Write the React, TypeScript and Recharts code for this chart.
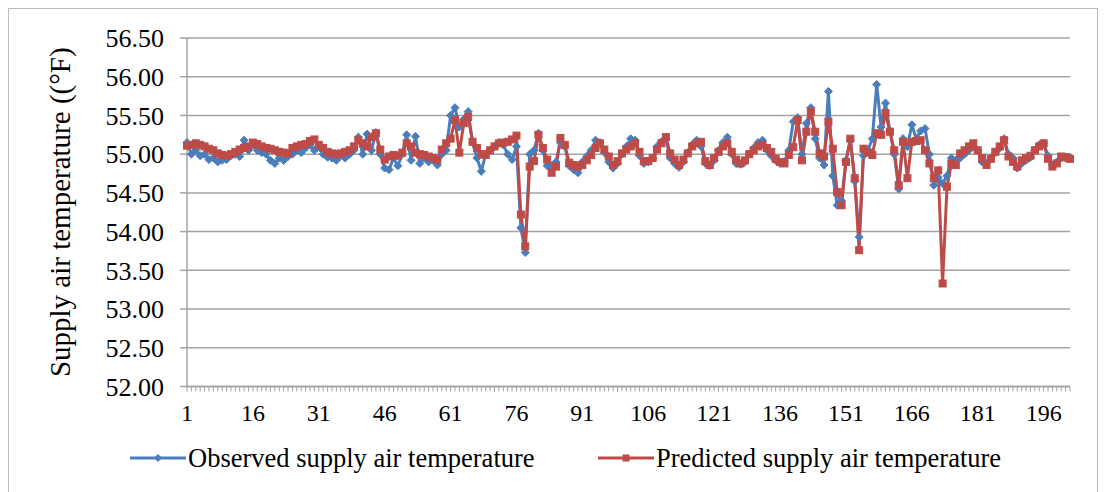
import React from 'react';
import { LineChart, Line, XAxis, YAxis, CartesianGrid, Legend } from 'recharts';

const observed: number[] = [
  55.15, 55.0, 55.05, 54.98, 55.0, 54.93, 54.95, 54.9, 54.92, 54.93,
  54.98, 55.0, 54.97, 55.18, 55.05, 55.12, 55.05, 55.02, 55.0, 54.92,
  54.88, 54.95, 54.92, 54.97, 55.0, 55.05, 55.02, 55.08, 55.12, 55.05,
  55.1, 55.0, 54.96, 54.95, 54.92, 54.98, 54.95, 55.0, 55.05, 55.22,
  55.0, 55.26, 55.05, 55.28, 55.0, 54.82, 54.8, 54.95, 54.85, 55.0,
  55.25, 54.92, 55.23, 54.88, 54.95, 54.9, 54.92, 54.86, 55.0, 55.05,
  55.5, 55.6, 55.35, 55.45, 55.55, 55.15, 54.95, 54.78, 55.0, 55.05,
  55.1, 55.15, 55.12, 55.0, 54.93, 55.1, 54.05, 53.73, 55.0, 55.05,
  55.27, 55.05, 54.85, 54.85, 54.9, 55.15, 55.1, 54.85, 54.8, 54.76,
  54.9, 54.97, 55.05, 55.18, 55.15, 55.02, 54.9, 54.82, 54.88, 55.0,
  55.1, 55.2, 55.18, 54.98, 54.88, 54.9, 54.95, 55.1, 55.16, 55.2,
  54.95, 54.88, 54.83, 54.9, 55.02, 55.12, 55.18, 55.1, 54.88, 54.85,
  54.92, 55.05, 55.15, 55.22, 55.0, 54.88, 54.87, 54.9, 55.0, 55.08,
  55.15, 55.18, 55.05, 54.98, 54.92, 54.88, 54.9, 55.05, 55.42, 55.47,
  55.0, 55.4, 55.6, 55.2, 54.95, 54.86, 55.81, 54.72, 54.34, 54.4,
  54.92, 55.18, 54.65, 53.93, 54.98, 55.05, 55.2, 55.9, 55.35, 55.66,
  55.3, 55.0, 54.55, 55.2, 55.1, 55.38, 55.2, 55.3, 55.33, 55.0,
  54.6, 54.7, 54.62, 54.72, 54.95, 54.92, 54.95, 55.0, 55.05, 55.1,
  55.05, 54.9, 54.88, 54.95, 55.02, 55.08, 55.2, 55.0, 54.95, 54.82,
  54.88, 54.92, 54.96, 55.05, 55.12, 55.14, 54.98, 54.86, 54.9, 54.95,
  54.95, 54.96,
];

const predicted: number[] = [
  55.11, 55.12, 55.14, 55.12, 55.1, 55.07, 55.05, 55.01, 54.99, 54.98,
  55.0, 55.03, 55.06, 55.08, 55.1, 55.15, 55.13, 55.1, 55.08, 55.07,
  55.05, 55.03, 55.02, 55.01, 55.08, 55.1, 55.12, 55.13, 55.17, 55.19,
  55.12, 55.08, 55.03, 55.01, 55.0, 55.01, 55.03, 55.05, 55.1, 55.18,
  55.14, 55.1, 55.22, 55.27, 55.06, 54.93, 54.97, 54.99, 54.98, 55.02,
  55.14, 55.1, 55.02, 55.0, 54.99, 54.97, 54.95, 54.93, 55.06, 55.14,
  55.2, 55.44, 55.02, 55.4, 55.48, 55.16, 55.08, 55.0, 54.99, 55.05,
  55.1, 55.14, 55.15, 55.16, 55.19, 55.24, 54.22, 53.81, 54.84, 54.91,
  55.25, 55.08, 54.93, 54.76, 54.84, 55.21, 55.12, 54.89, 54.86, 54.84,
  54.86, 54.92, 54.99, 55.08, 55.14, 55.06, 54.97, 54.86, 54.91, 55.01,
  55.06, 55.1, 55.14, 55.03, 54.91, 54.91, 54.95, 55.06, 55.14, 55.22,
  55.01, 54.93, 54.86, 54.93, 55.01, 55.1, 55.14, 55.16, 54.91, 54.86,
  54.95, 55.03, 55.1, 55.14, 55.03, 54.93, 54.88, 54.92, 55.0, 55.05,
  55.1, 55.12, 55.08, 55.03, 54.94, 54.9, 54.88, 54.99, 55.09, 55.44,
  54.92, 55.29, 55.55, 55.29, 55.01, 54.97, 55.42, 55.07, 54.51, 54.34,
  54.9, 55.2, 54.69, 53.76, 55.07, 55.02, 54.99, 55.27, 55.25, 55.53,
  55.29, 55.05, 54.6, 55.16, 54.69, 55.16, 55.17, 55.18, 55.05, 54.88,
  54.69, 54.79, 53.33, 54.58, 54.88, 54.86, 55.01, 55.05, 55.1, 55.14,
  55.05, 54.95, 54.86, 54.94, 55.03, 55.1, 55.18, 54.97, 54.9, 54.84,
  54.92, 54.95, 54.98, 55.05, 55.1, 55.14, 54.94, 54.84, 54.88, 54.97,
  54.96, 54.94,
];

const categories: string[] = observed.map((_, i) => String(i + 1));
const xTickLabels: string[] = ['1', '16', '31', '46', '61', '76', '91', '106', '121', '136', '151', '166', '181', '196'];
const yTicks: number[] = [52, 52.5, 53, 53.5, 54, 54.5, 55, 55.5, 56, 56.5];
const seriesNames: string[] = ['Observed supply air temperature', 'Predicted supply air temperature'];
const yAxisTitle = 'Supply air temperature ((°F)';

const data = categories.map((c, i) => ({ cat: c, observed: observed[i], predicted: predicted[i] }));

const FONT = '"Liberation Serif", "Times New Roman", serif';
const BLUE = '#4a7ebb';
const RED = '#be4b48';
const GRID = '#a3a3a3';

const diamondPath = (cx: number, cy: number, r: number) =>
  `M${cx},${cy - r}L${cx + r},${cy}L${cx},${cy + r}L${cx - r},${cy}Z`;

const DiamondDot = (props: any) => {
  const { cx, cy, index } = props;
  if (cx == null || cy == null) return <g key={`od${index}`} />;
  return <path key={`od${index}`} d={diamondPath(cx, cy, 4)} fill={BLUE} stroke={BLUE} strokeWidth={1} />;
};

const SquareDot = (props: any) => {
  const { cx, cy, index } = props;
  if (cx == null || cy == null) return <g key={`pd${index}`} />;
  return <rect key={`pd${index}`} x={cx - 3.5} y={cy - 3.5} width={7} height={7} fill={RED} stroke={RED} strokeWidth={1} />;
};

const XTick = (props: any) => {
  const { x, y, payload } = props;
  const v = String(payload?.value);
  if (!xTickLabels.includes(v)) return <g />;
  return (
    <text x={x} y={y} dy="0.71em" textAnchor="middle" fontSize={24} style={{ fontFamily: FONT }} fill="#000">
      {v}
    </text>
  );
};

const YTick = (props: any) => {
  const { x, y, payload } = props;
  return (
    <text x={x} y={y} dy="0.355em" textAnchor="end" fontSize={26} style={{ fontFamily: FONT }} fill="#000">
      {Number(payload.value).toFixed(2)}
    </text>
  );
};

const YTitle = (props: any) => {
  const vb = props.viewBox || {};
  const cx = 52;
  const cy = vb.y != null && vb.height != null ? vb.y + vb.height / 2 : 204.4;
  return (
    <text
      x={cx}
      y={cy}
      transform={`rotate(-90 ${cx} ${cy})`}
      textAnchor="middle"
      dominantBaseline="central"
      fontSize={29}
      style={{ fontFamily: FONT }}
      fill="#000"
    >
      {yAxisTitle}
    </text>
  );
};

const LegendContent = () => (
  <div style={{ position: 'relative', width: 1090, height: 45, fontFamily: FONT, fontSize: 26.5, color: '#000' }}>
    <div style={{ position: 'absolute', left: 122, top: 0, height: 36, display: 'flex', alignItems: 'center' }}>
      <svg width={56} height={12} style={{ display: 'block' }}>
        <line x1={0} y1={6} x2={56} y2={6} stroke={BLUE} strokeWidth={3} />
        <path d={diamondPath(28, 6, 4)} fill={BLUE} />
      </svg>
      <span style={{ marginLeft: 2, whiteSpace: 'nowrap', lineHeight: '36px' }}>{seriesNames[0]}</span>
    </div>
    <div style={{ position: 'absolute', left: 590, top: 0, height: 36, display: 'flex', alignItems: 'center' }}>
      <svg width={56} height={12} style={{ display: 'block' }}>
        <line x1={0} y1={6} x2={56} y2={6} stroke={RED} strokeWidth={3} />
        <rect x={24.5} y={2.5} width={7} height={7} fill={RED} />
      </svg>
      <span style={{ marginLeft: 2, whiteSpace: 'nowrap', lineHeight: '36px' }}>{seriesNames[1]}</span>
    </div>
  </div>
);

export default function App() {
  return (
    <div style={{ position: 'relative', width: 1090, height: 484 }}>
      <div
        style={{
          position: 'absolute',
          left: 0,
          top: 0,
          width: 1090,
          height: 500,
          border: '1px solid #bdbdbd',
          boxSizing: 'border-box',
        }}
      />
      <div style={{ position: 'absolute', left: 0, top: 0 }}>
        <LineChart width={1090} height={484} data={data} margin={{ top: 30, right: 28, left: 0, bottom: 0 }}>
          <CartesianGrid vertical={false} stroke={GRID} strokeWidth={1.5} />
          <XAxis
            dataKey="cat"
            interval={0}
            tick={<XTick />}
            tickSize={5}
            tickMargin={12}
            height={60.5}
            axisLine={{ stroke: GRID, strokeWidth: 1.5 }}
            tickLine={{ stroke: GRID, strokeWidth: 1 }}
          />
          <YAxis
            type="number"
            domain={[52, 56.5]}
            ticks={yTicks}
            interval={0}
            width={179}
            tick={<YTick />}
            tickSize={7}
            tickMargin={16}
            axisLine={{ stroke: GRID, strokeWidth: 1.5 }}
            tickLine={{ stroke: GRID, strokeWidth: 1.5 }}
            label={YTitle}
          />
          <Legend
            verticalAlign="bottom"
            content={<LegendContent />}
            wrapperStyle={{ position: 'absolute', top: 432, left: 0, bottom: 'auto', width: 1090, height: 45 }}
          />
          <Line
            type="linear"
            dataKey="observed"
            name={seriesNames[0]}
            stroke={BLUE}
            strokeWidth={3}
            dot={DiamondDot}
            activeDot={false}
            isAnimationActive={false}
          />
          <Line
            type="linear"
            dataKey="predicted"
            name={seriesNames[1]}
            stroke={RED}
            strokeWidth={3}
            dot={SquareDot}
            activeDot={false}
            isAnimationActive={false}
          />
        </LineChart>
      </div>
    </div>
  );
}
